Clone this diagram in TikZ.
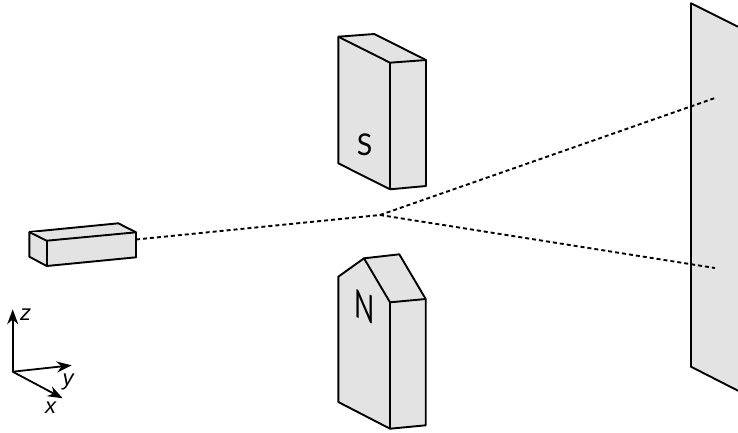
\documentclass[tikz,border=0pt]{standalone}
\usepackage{fontspec}
\setmainfont{Liberation Sans}
\newfontfamily\polefont{Lato}
\usetikzlibrary{arrows.meta}
\definecolor{facegray}{HTML}{E3E3E3}
\tikzset{
  solidface/.style={fill=facegray,draw=black,line width=1.9pt,line join=round},
  beam/.style={draw=black,line width=1.9pt,dash pattern=on 4pt off 3pt},
  axis/.style={draw=black,line width=1.8pt,-{Stealth[length=15pt,width=11pt]}},
  axislabel/.style={font=\fontsize{22}{22}\selectfont\itshape,inner sep=0pt},
  polelabel/.style={inner sep=0pt,transform shape}
}
\begin{document}
\begin{tikzpicture}[x=1pt,y=-1pt]
\useasboundingbox (0,0) rectangle (738,432);
% screen
\fill[facegray] (691,3.3) -- (738,26.7) -- (738,390.7) -- (691,366.7) -- cycle;
\draw[line width=1.9pt,line join=round] (738,26.7) -- (691,3.3) -- (691,366.7) -- (738,390.7);
% S magnet
\draw[solidface] (338.3,36.7) -- (374.3,34) -- (426,60) -- (426,186) -- (390,189.3) -- (338.3,163.3) -- cycle;
\draw[solidface] (338.3,36.7) -- (390,62.7) -- (426,60);
\draw[solidface] (390,62.7) -- (390,189.3);
\begin{scope}[shift={(364.5,145)},xscale=0.95]
\node[polelabel,font=\polefont\fontsize{30}{30}\selectfont] (spole) at (0,0) {S};
\end{scope}
% N magnet
\draw[solidface] (338.3,276.7) -- (364,258.3) -- (399.3,254.3) -- (425.7,299) -- (425.7,425.3) -- (390,428.7) -- (338.3,402) -- cycle;
\draw[solidface] (364,258.3) -- (390,302.3) -- (425.7,299);
\draw[solidface] (390,302.3) -- (390,428.7);
\begin{scope}[shift={(364.5,307)},yslant=-0.42,xscale=0.68]
\node[polelabel,font=\polefont\fontsize{39}{39}\selectfont] (npole) at (0,0) {N};
\end{scope}
% source
\draw[solidface] (29.3,232) -- (118.3,223.3) -- (136,232.3) -- (136,257.3) -- (46.7,266) -- (29.3,256.7) -- cycle;
\draw[solidface] (29.3,232) -- (46.7,240.7) -- (136,232.3);
\draw[solidface] (46.7,240.7) -- (46.7,266);
% beams
\coordinate (src) at (136,239.5);
\coordinate (split) at (380,215);
\coordinate (upper) at (715,98);
\coordinate (lower) at (715,268);
\draw[beam] (src) -- (split);
\draw[beam] (split) -- (upper);
\draw[beam] (split) -- (lower);
% axes
\coordinate (o) at (12.7,371.7);
\coordinate (zt) at (12.7,309.3);
\coordinate (yt) at (71.7,365.3);
\coordinate (xt) at (62.7,398.3);
\draw[axis] (o) -- (zt);
\draw[axis] (o) -- (yt);
\draw[axis] (o) -- (xt);
\node[axislabel] (zl) at (25.5,315) {z};
\node[axislabel] (yl) at (68,382) {y};
\node[axislabel] (xl) at (50.5,407.5) {x};
\end{tikzpicture}
\end{document}
